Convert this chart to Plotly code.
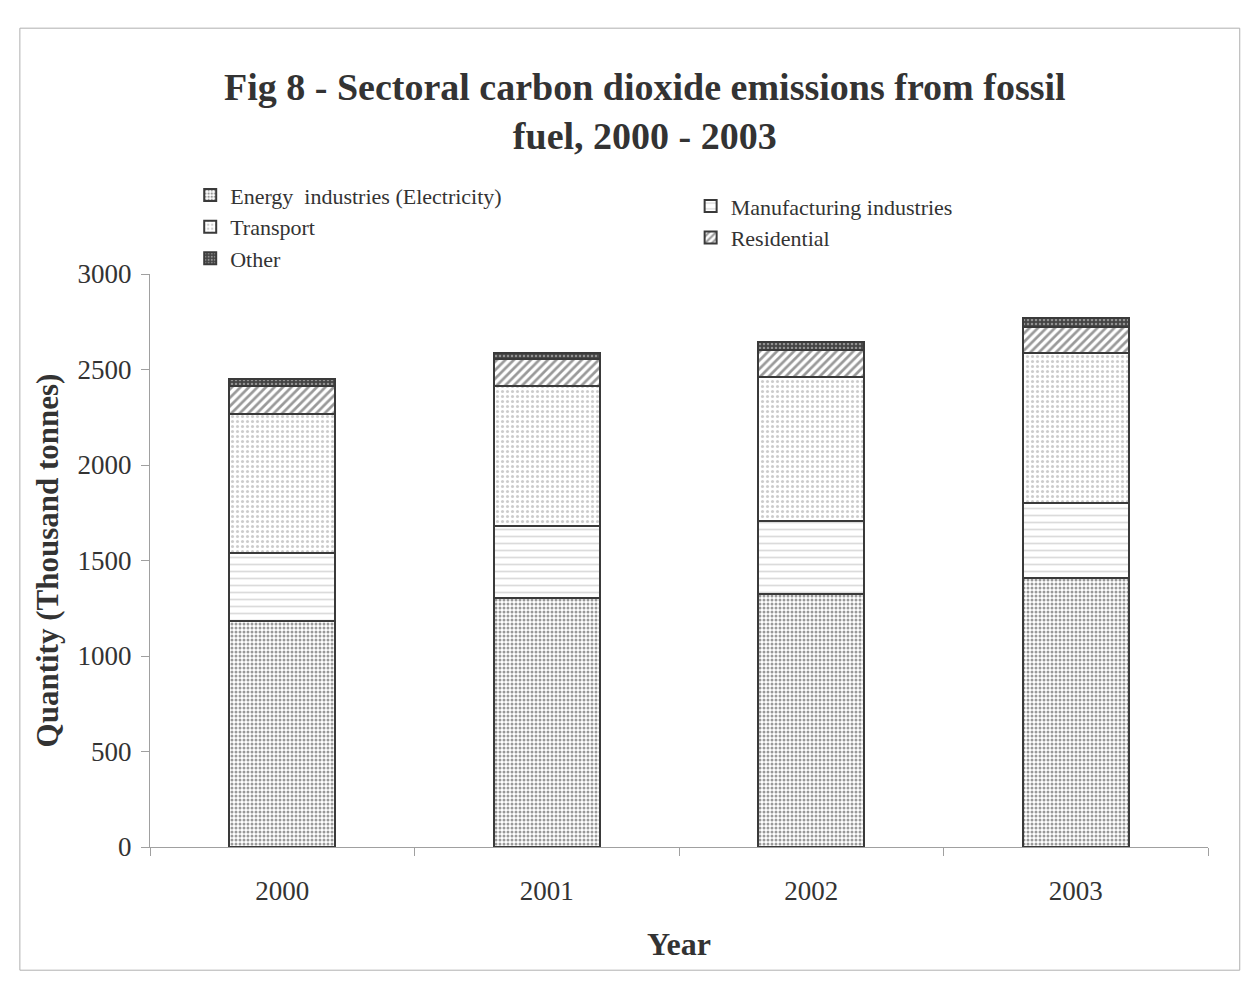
import plotly.graph_objects as go

years = ["2000", "2001", "2002", "2003"]
energy = [1183, 1302, 1325, 1408]
manufacturing = [356, 380, 382, 393]
transport = [728, 733, 754, 785]
residential = [147, 140, 141, 137]
other = [36, 30, 42, 47]

# (name, values, pattern, legend column)
series = [
    ("Energy  industries (Electricity)", energy,
     dict(shape=".", fgcolor="#333333", bgcolor="#ffffff", size=4, solidity=0.45), "legend"),
    ("Manufacturing industries", manufacturing,
     dict(shape="-", fgcolor="#b8b8b8", bgcolor="#ffffff", size=7, solidity=0.25), "legend2"),
    ("Transport", transport,
     dict(shape=".", fgcolor="#9a9a9a", bgcolor="#ffffff", size=5, solidity=0.3), "legend"),
    ("Residential", residential,
     dict(shape="/", fgcolor="#333333", bgcolor="#ffffff", size=6, solidity=0.45), "legend2"),
    ("Other", other,
     dict(shape=".", fgcolor="#dddddd", bgcolor="#444444", size=4, solidity=0.3), "legend"),
]

FONT = "Liberation Serif, Times New Roman, serif"
TXT = "#333333"

fig = go.Figure()
for name, vals, pat, leg in series:
    fig.add_trace(go.Bar(
        x=years, y=vals, name=name, legend=leg,
        marker=dict(color="#ffffff", pattern=pat,
                    line=dict(color="#3a3a3a", width=2)),
    ))

legend_common = dict(
    orientation="v", xanchor="left", yanchor="top",
    font=dict(family=FONT, size=22, color=TXT),
    traceorder="normal", itemclick=False, itemdoubleclick=False,
    bgcolor="rgba(0,0,0,0)", borderwidth=0,
)

fig.update_layout(
    barmode="stack",
    bargap=0.6,
    width=1256, height=985,
    paper_bgcolor="#ffffff", plot_bgcolor="#ffffff",
    margin=dict(l=142, r=56, t=266, b=146),
    font=dict(family=FONT, color=TXT),
    title=dict(
        text="<b>Fig 8 - Sectoral carbon dioxide emissions from fossil<br>fuel, 2000 - 2003</b>",
        x=0.507, xanchor="center", y=1 - 92 / 985, yanchor="top",
        font=dict(family=FONT, size=38, color=TXT),
    ),
    legend=dict(x=0.038, y=1.174, **legend_common),
    legend2=dict(x=0.511, y=1.155, **legend_common),
    showlegend=True,
)

fig.update_xaxes(
    showline=True, linecolor="#a0a0a0", linewidth=1,
    ticks="outside", tickson="boundaries", ticklen=8, tickcolor="#a0a0a0",
    showgrid=False, ticklabelstandoff=20,
    tickfont=dict(family=FONT, size=27, color=TXT),
    title=dict(text="<b>Year</b>", font=dict(family=FONT, size=32, color=TXT), standoff=27),
)
fig.update_yaxes(
    range=[0, 3000], tickvals=[0, 500, 1000, 1500, 2000, 2500, 3000],
    showline=True, linecolor="#a0a0a0", linewidth=1,
    ticks="outside", ticklen=8, tickcolor="#a0a0a0",
    showgrid=False, zeroline=False, ticklabelstandoff=4,
    tickfont=dict(family=FONT, size=27, color=TXT),
    title=dict(text="<b>Quantity (Thousand tonnes)</b>",
               font=dict(family=FONT, size=31, color=TXT), standoff=9),
)

# outer chart frame
fig.add_shape(type="rect", xref="paper", yref="paper",
              x0=-0.123, x1=1.030, y0=-0.215, y1=1.429,
              line=dict(color="#b0b0b0", width=1), fillcolor="rgba(0,0,0,0)")

fig.write_html("out.html")
